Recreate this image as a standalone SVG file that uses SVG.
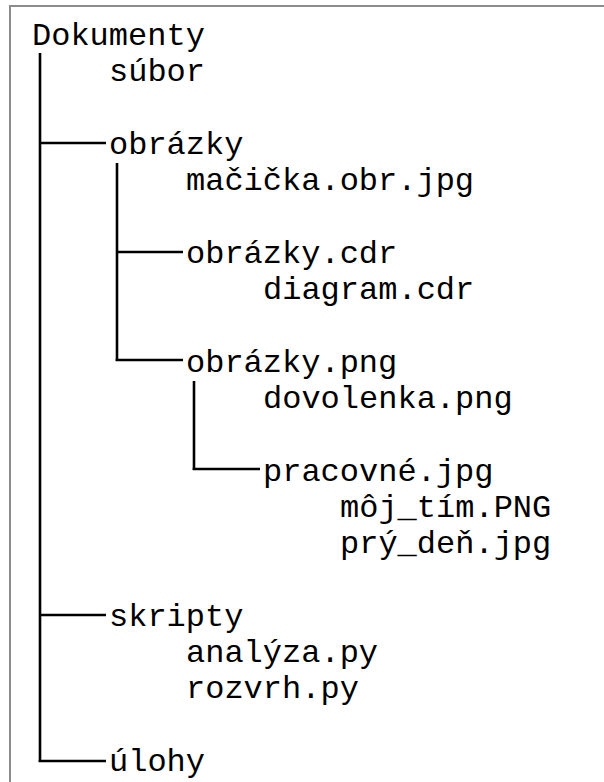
<svg xmlns="http://www.w3.org/2000/svg" width="604" height="782" viewBox="0 0 604 782">
<style>
text{font-family:"Liberation Mono","Courier New",monospace;font-size:32px;fill:#000}
.c line{stroke:#000;stroke-width:2.6;fill:none}
</style>
<rect x="0" y="0" width="604" height="782" fill="#fff"/>
<rect x="10" y="6" width="700" height="900" fill="none" stroke="#8c8c8c" stroke-width="2"/>
<g class="c" id="connectors">
<line x1="40" y1="53" x2="40" y2="762"/>
<line x1="40" y1="143" x2="106" y2="143"/>
<line x1="40" y1="615" x2="106" y2="615"/>
<line x1="38.7" y1="761" x2="106" y2="761"/>
<line x1="117" y1="163" x2="117" y2="361"/>
<line x1="117" y1="252" x2="183" y2="252"/>
<line x1="115.7" y1="360" x2="183" y2="360"/>
<line x1="194" y1="381" x2="194" y2="470"/>
<line x1="192.7" y1="469" x2="260" y2="469"/>
</g>
<g id="n-dokumenty"><text x="32" y="45">Dokumenty</text></g>
<g id="n-subor"><text x="109" y="81">súbor</text></g>
<g id="n-obrazky"><text x="109" y="154">obrázky</text></g>
<g id="n-macicka"><text x="186" y="190">mačička.obr.jpg</text></g>
<g id="n-obrazky-cdr"><text x="186" y="263">obrázky.cdr</text></g>
<g id="n-diagram"><text x="263" y="299">diagram.cdr</text></g>
<g id="n-obrazky-png"><text x="186" y="372">obrázky.png</text></g>
<g id="n-dovolenka"><text x="263" y="408">dovolenka.png</text></g>
<g id="n-pracovne"><text x="263" y="481">pracovné.jpg</text></g>
<g id="n-moj-tim"><text x="340" y="517">môj_tím.PNG</text></g>
<g id="n-pry-den"><text x="340" y="553">prý_deň.jpg</text></g>
<g id="n-skripty"><text x="109" y="626">skripty</text></g>
<g id="n-analyza"><text x="186" y="662">analýza.py</text></g>
<g id="n-rozvrh"><text x="186" y="698">rozvrh.py</text></g>
<g id="n-ulohy"><text x="109" y="771">úlohy</text></g>
</svg>
